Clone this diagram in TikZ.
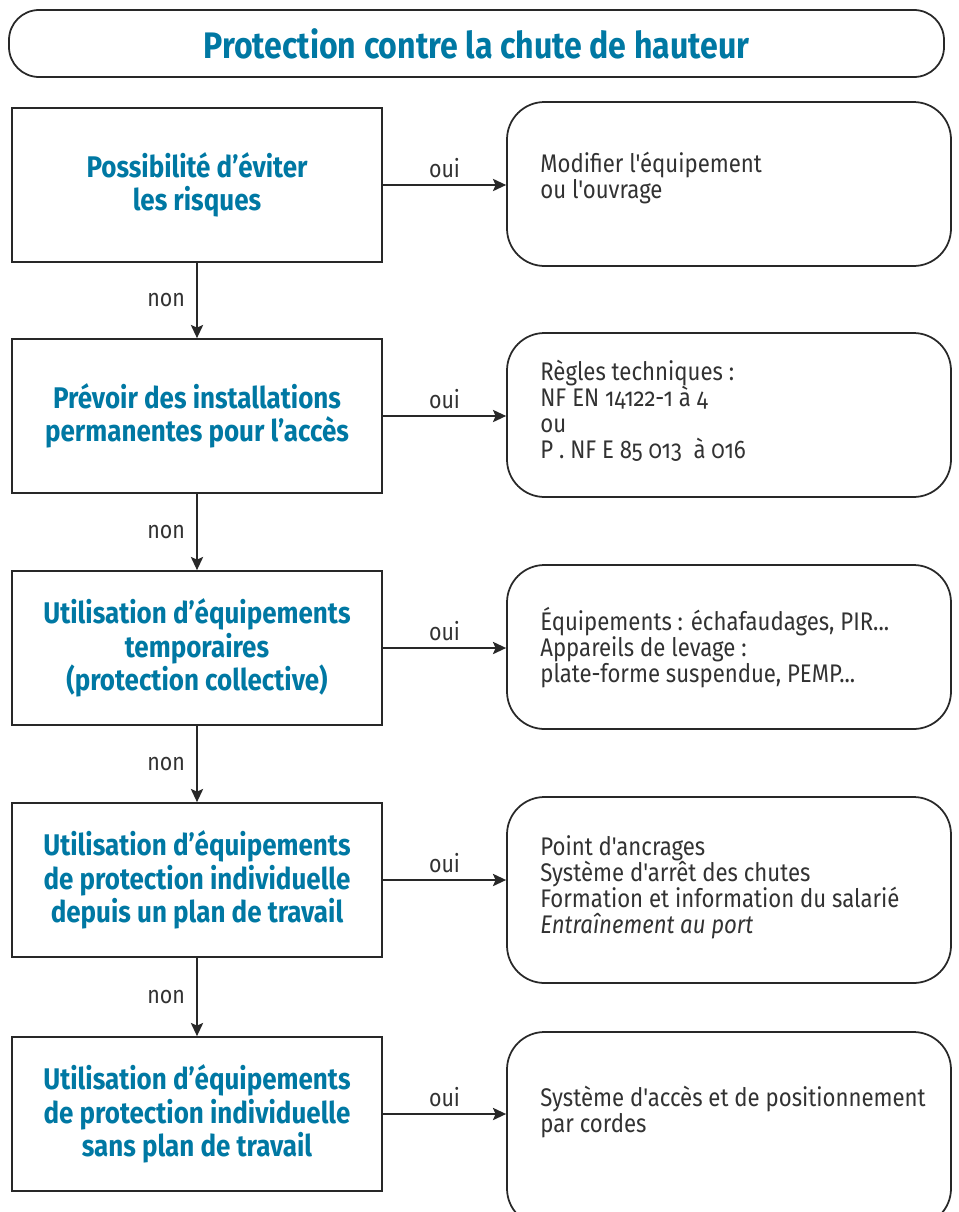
\documentclass[tikz,border=0pt]{standalone}
\usepackage{fontspec}
\setmainfont{Fira Sans}[Numbers=OldStyle,FakeStretch=0.87,Ligatures=TeXOff]
\usetikzlibrary{arrows.meta,positioning}

\definecolor{titleblue}{RGB}{0,120,163}
\definecolor{linegray}{RGB}{40,40,40}
\definecolor{textgray}{RGB}{50,50,50}

\begin{document}
\begin{tikzpicture}[
		qbox/.style={rectangle, draw=linegray, line width=1pt, minimum width=7.4cm, minimum height=3.08cm, align=center, text=titleblue, font=\fontsize{17}{19}\selectfont\bfseries},
		abox/.style={rectangle, rounded corners=0.75cm, draw=linegray, line width=1pt, minimum width=8.88cm, minimum height=3.28cm},
		desc/.style={anchor=west, align=left, text=textgray, inner sep=0pt, font=\fontsize{14.5}{14.8}\selectfont},
		flow/.style={line width=1pt, draw=linegray, -{Stealth[length=7.5pt,width=7pt,inset=1.5pt]}},
		lbl/.style={text=textgray, font=\fontsize{14}{16}\selectfont}
		]
		
		\useasboundingbox (0,0) rectangle (19.16,-24.24);
		\clip (0,0) rectangle (19.16,-24.24);
		
		% Title
		
		\node[rectangle, rounded corners=0.6cm, draw=linegray, line width=1pt, minimum width=18.7cm, minimum height=1.34cm, text=titleblue, font=\fontsize{21}{25}\selectfont\bfseries] 
		(title) at (9.53,-0.87) {Protection contre la chute de hauteur};
		
		% Questions
		
		\node[qbox] (q1) at (3.94,-3.70) {Possibilité d’éviter\\les risques};
		
		\node[qbox] (q2) at (3.94,-8.32) {Prévoir des installations\\permanentes pour l’accès};
		
		\node[qbox] (q3) at (3.94,-12.96) {Utilisation d’équipements\\temporaires\\(protection collective)};
		
		\node[qbox] (q4) at (3.94,-17.60) {Utilisation d’équipements\\de protection individuelle\\depuis un plan de travail};
		
		\node[qbox] (q5) at (3.94,-22.28) {Utilisation d’équipements\\de protection individuelle\\sans plan de travail};
		
		% Answers
		
		\node[abox] (a1) at (14.58,-3.68) {};
		\node[desc] (t1) at (10.8,-3.56) {Modifier l'équipement\\ou l'ouvrage};
		
		\node[abox] (a2) at (14.58,-8.30) {};
		\node[desc] (t2) at (10.8,-8.22) {Règles techniques :\\NF EN 14122-1 à 4\\ou\\P . NF E 85 013 \ à 016};
		
		\node[abox] (a3) at (14.58,-12.94) {};
		\node[desc] (t3) at (10.8,-12.96) {Équipements : échafaudages, PIR...\\Appareils de levage :\\plate-forme suspendue, PEMP...};
		
		\node[abox, minimum height=3.72cm] (a4) at (14.58,-17.80) {};
		\node[desc] (t4) at (10.8,-17.74) {Point d'ancrages\\Système d'arrêt des chutes\\Formation et information du salarié\\\textit{Entraînement au port}};
		
		\node[abox, minimum height=3.88cm] (a5) at (14.58,-22.58) {};
		\node[desc] (t5) at (10.8,-22.24) {Système d'accès et de positionnement\\par cordes};
		
		% oui
		
		\draw[flow] (q1.east) -- node[lbl, above]{oui} (q1.east -| a1.west);
		
		\draw[flow] (q2.east) -- node[lbl, above]{oui} (q2.east -| a2.west);
		
		\draw[flow] (q3.east) -- node[lbl, above]{oui} (q3.east -| a3.west);
		
		\draw[flow] (q4.east) -- node[lbl, above]{oui} (q4.east -| a4.west);
		
		\draw[flow] (q5.east) -- node[lbl, above]{oui} (q5.east -| a5.west);
		
		% non
		
		\draw[flow] (q1) -- node[lbl, left=3pt]{non} (q2);
		
		\draw[flow] (q2) -- node[lbl, left=3pt]{non} (q3);
		
		\draw[flow] (q3) -- node[lbl, left=3pt]{non} (q4);
		
		\draw[flow] (q4) -- node[lbl, left=3pt]{non} (q5);
		
	\end{tikzpicture}
\end{document}
